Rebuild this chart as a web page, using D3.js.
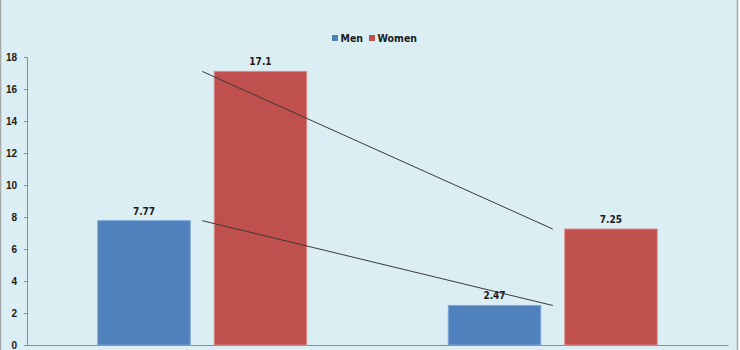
<!DOCTYPE html>
<html>
<head>
<meta charset="utf-8">
<script src="https://cdn.jsdelivr.net/npm/d3@7"></script>
<style>
  html, body { margin: 0; padding: 0; background: #fff; }
  svg { display: block; }
  text { font-family: "Liberation Sans Narrow", "Arial Narrow", "DejaVu Sans Condensed", sans-serif; font-weight: bold; fill: #1a1a1a; }
</style>
</head>
<body>
<svg width="740" height="350"></svg>
<script>
/* data */
var categories = ["Group 1", "Group 2"]
var series = ["Men", "Women"]
var menValues = [7.77, 2.47]
var womenValues = [17.1, 7.25]
var yTicks = [0, 2, 4, 6, 8, 10, 12, 14, 16, 18]

var colors = {Men: "#4f81bd", Women: "#c0504d"}
var strokes = {Men: "#7ea3d4", Women: "#d98a88"}

var rows = categories.map(function (c, i) {
    return {cat: c, Men: menValues[i], Women: womenValues[i]}
})

/* layout */
var width = 740, height = 350
var plot = {left: 27, right: 728, top: 57, bottom: 345}

var svg = d3.select("svg")

svg.append("rect")
    .attr("x", 0.5).attr("y", -1)
    .attr("width", width - 3).attr("height", height + 2)
    .attr("fill", "#dbeef4")
    .attr("stroke", "#a6a6a6")
    .attr("stroke-width", 1.5)

/* scales */
var x0 = d3.scaleBand()
    .domain(categories)
    .range([plot.left, plot.right])
    .paddingInner(0.404)
    .paddingOuter(0.202)

var x1 = d3.scaleBand()
    .domain(series)
    .range([0, x0.bandwidth()])
    .paddingInner(0.206)

var y = d3.scaleLinear()
    .domain([0, 18])
    .range([plot.bottom, plot.top])

/* y axis */
var yAxis = d3.axisLeft(y)
    .tickValues(yTicks)
    .tickSize(3)
    .tickPadding(7)

var gy = svg.append("g")
    .attr("transform", "translate(" + plot.left + ",0)")
    .call(yAxis)
gy.select(".domain").attr("stroke", "#8c8c8c")
gy.selectAll(".tick line").attr("stroke", "#8c8c8c")
gy.selectAll(".tick text")
    .attr("font-size", 10)
    .style("font-family", "'Liberation Sans Narrow', 'Arial Narrow', sans-serif")
    .style("font-weight", "bold")
    .attr("fill", "#1a1a1a")

/* x axis line, no labels */
var xAxis = d3.axisBottom(x0).tickSize(0).tickFormat("")
var gx = svg.append("g")
    .attr("transform", "translate(0," + plot.bottom + ")")
    .call(xAxis)
gx.select(".domain").attr("stroke", "#8c8c8c")

/* bars */
var groups = svg.append("g").selectAll("g")
    .data(rows)
    .enter()
    .append("g")
    .attr("transform", function (d) { return "translate(" + x0(d.cat) + ",0)" })

groups.selectAll("rect")
    .data(function (d) { return series.map(function (s) { return {s: s, v: d[s]} }) })
    .enter()
    .append("rect")
    .attr("x", function (d) { return x1(d.s) })
    .attr("y", function (d) { return y(d.v) })
    .attr("width", x1.bandwidth())
    .attr("height", function (d) { return y(0) - y(d.v) })
    .attr("fill", function (d) { return colors[d.s] })
    .attr("stroke", function (d) { return strokes[d.s] })
    .attr("stroke-width", 1)

/* trend lines between category centres */
var line = d3.line()
    .x(function (d) { return x0(d.cat) + x0.bandwidth() / 2 })
    .y(function (d) { return y(d.v) })

series.forEach(function (s) {
    svg.append("path")
        .datum(rows.map(function (r) { return {cat: r.cat, v: r[s]} }))
        .attr("d", line)
        .attr("fill", "none")
        .attr("stroke", "#3a3a3a")
        .attr("stroke-width", 1)
})

/* value labels */
groups.selectAll("text")
    .data(function (d) { return series.map(function (s) { return {s: s, v: d[s]} }) })
    .enter()
    .append("text")
    .text(function (d) { return d.v })
    .attr("x", function (d) { return x1(d.s) + x1.bandwidth() / 2 })
    .attr("y", function (d) { return y(d.v) - 6 })
    .attr("text-anchor", "middle")
    .attr("font-size", 10)

/* legend */
var legendX = [332, 369]
var legend = svg.append("g").selectAll("g")
    .data(series)
    .enter()
    .append("g")
    .attr("transform", function (d, i) { return "translate(" + legendX[i] + ",35)" })

legend.append("rect")
    .attr("width", 6).attr("height", 6)
    .attr("fill", function (d) { return colors[d] })

legend.append("text")
    .text(function (d) { return d })
    .attr("x", 8.5)
    .attr("y", 6.5)
    .attr("font-size", 10.5)
</script>
</body>
</html>
